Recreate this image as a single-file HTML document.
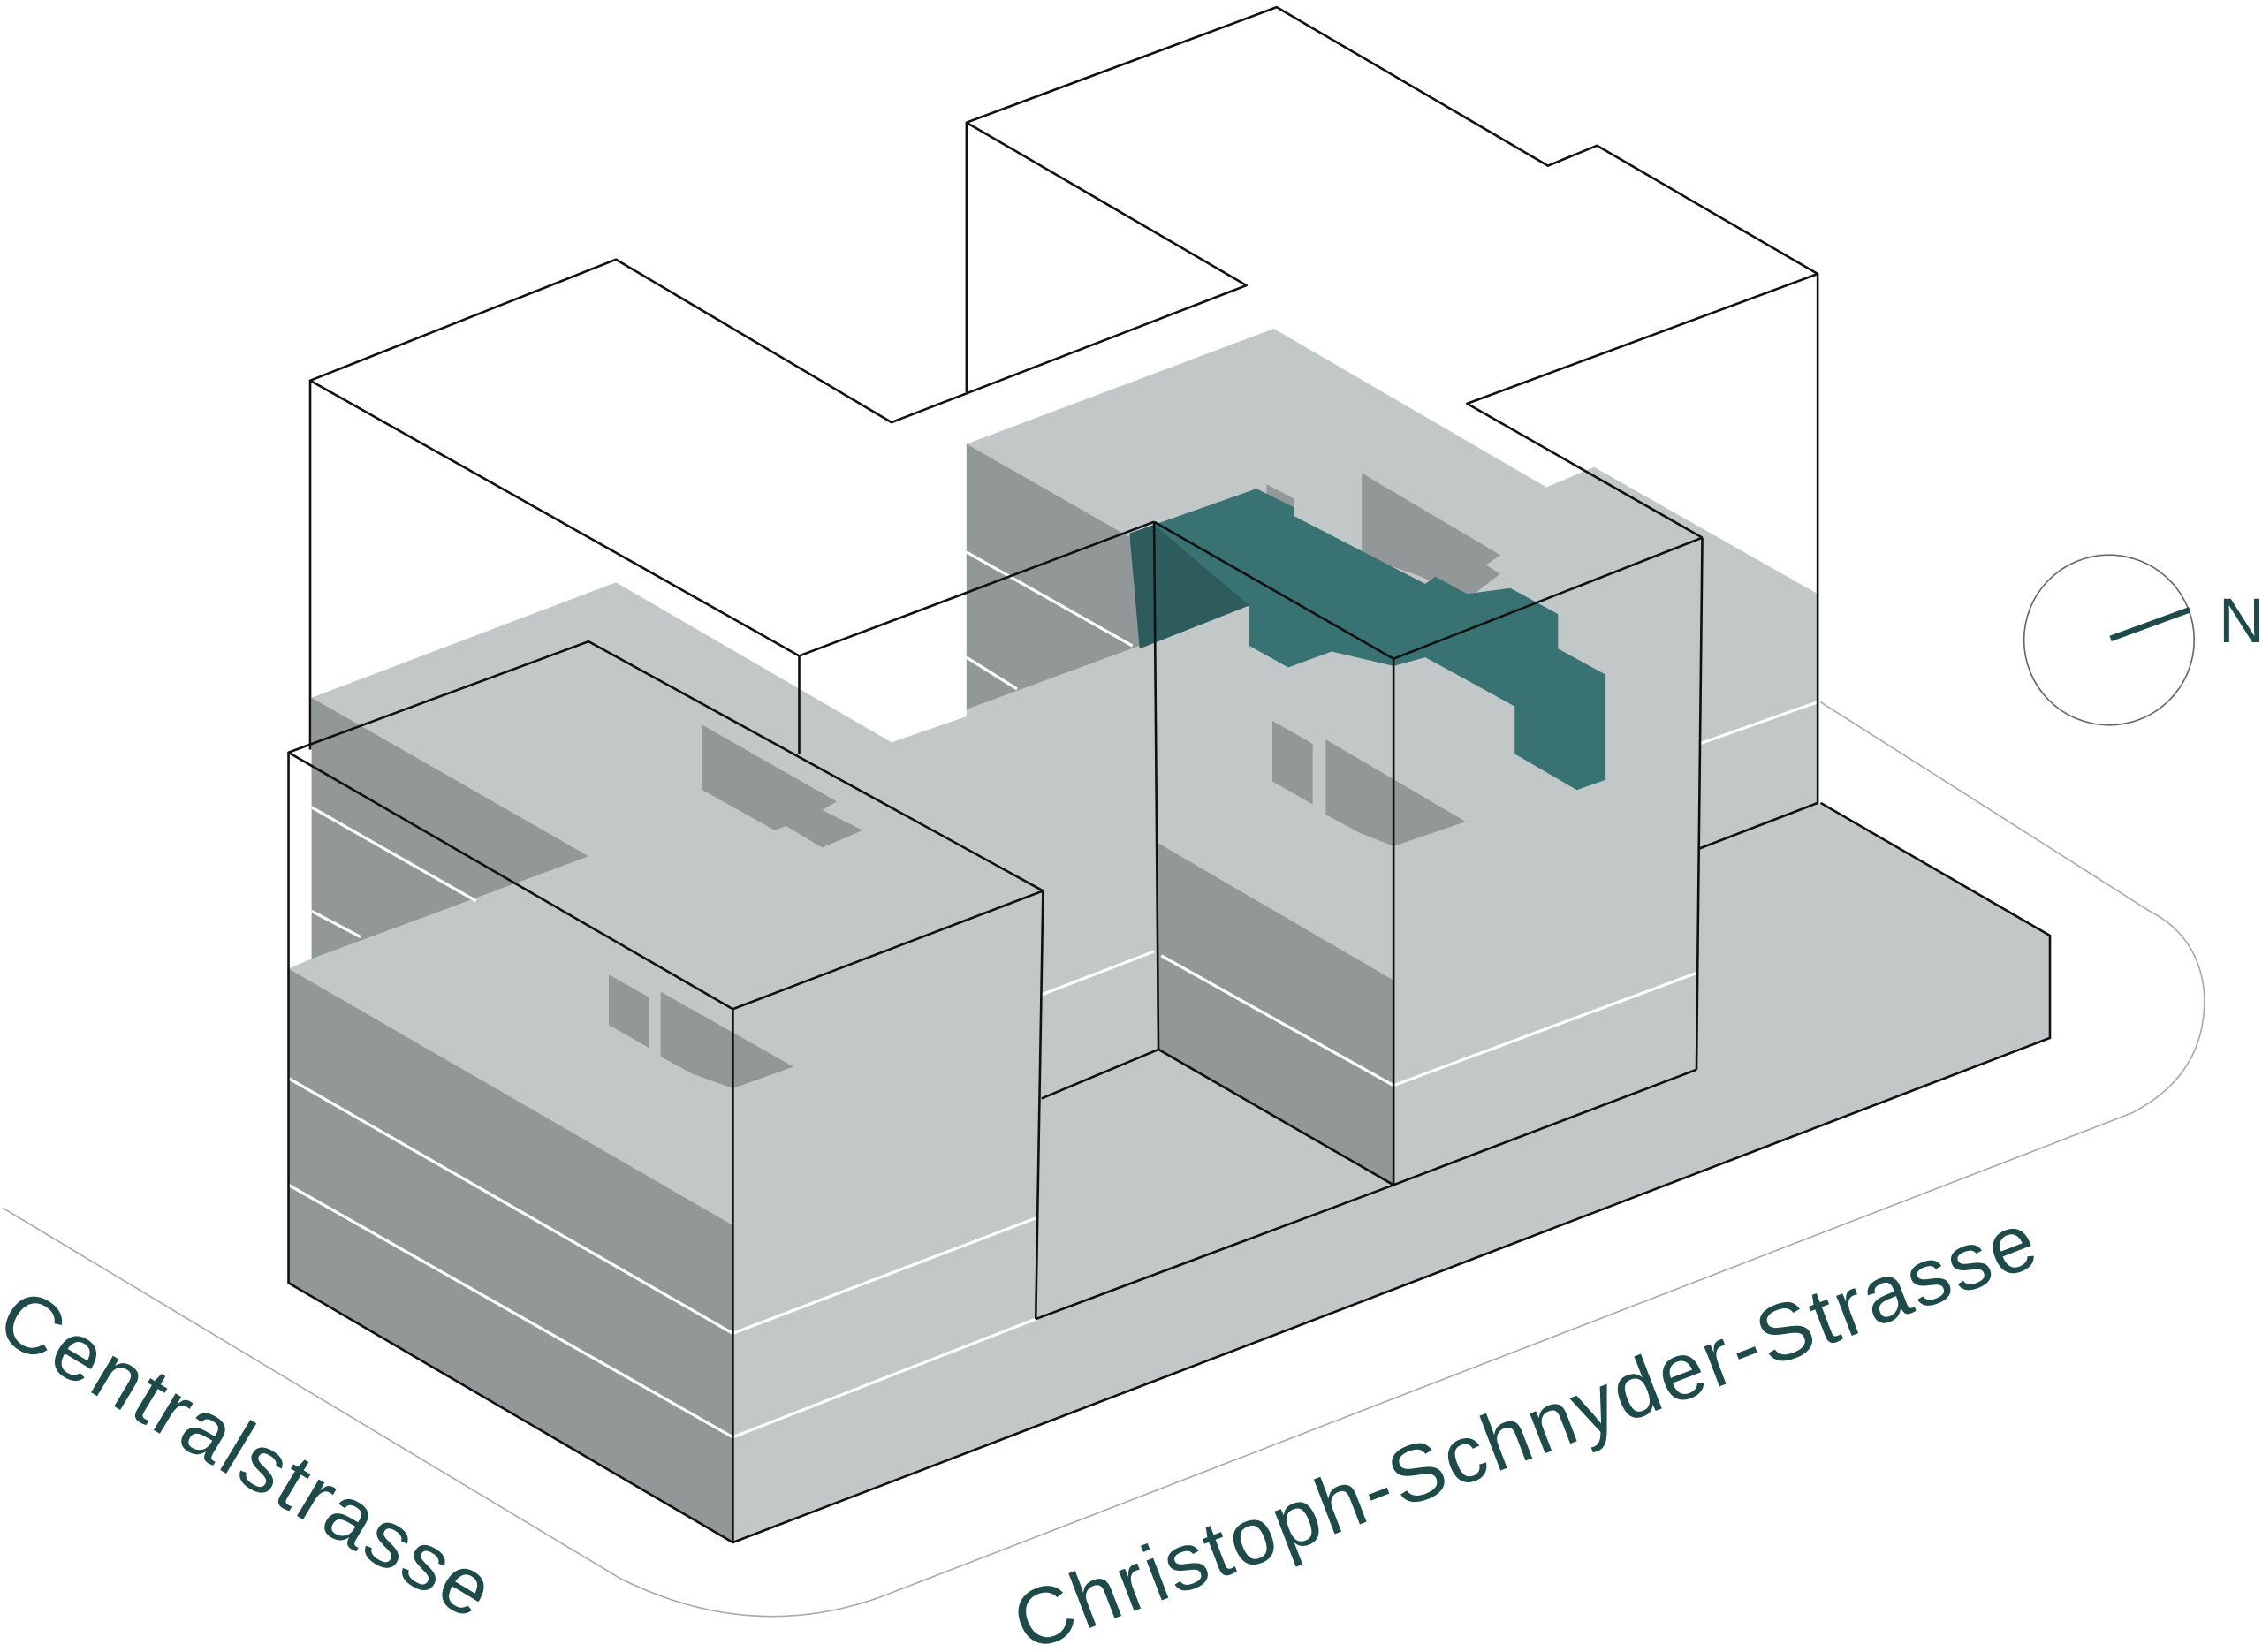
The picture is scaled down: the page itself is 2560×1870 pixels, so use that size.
<!DOCTYPE html>
<html><head><meta charset="utf-8"><style>html,body{margin:0;padding:0;background:#fff}svg{display:block}</style></head>
<body>
<svg width="2560" height="1870" viewBox="0 0 1568 1146" preserveAspectRatio="none" xmlns="http://www.w3.org/2000/svg">
<rect width="1568" height="1146" fill="#fff"/>
<!-- street outline -->
<path d="M2,838 L430,1095 Q520,1140 610,1108 L1478,772 Q1530,745 1528,690 Q1525,650 1490,632 L1262,487" fill="none" stroke="#aaa" stroke-width="1"/>
<!-- light gray mass -->
<polygon fill="#c1c8c7" points="216,484 427,404 618,515 670,497 670,308 883,228 1072,338 1105,324 1260,412 1260,557 1421,649 1421,720 508,1070 200,890 200,672 216,665"/>
<!-- dark faces -->
<g fill="#919897">
<polygon points="216,484 408,594 216,665"/>
<polygon points="200,672 508,850 508,1070 200,890"/>
<polygon points="670,308 866,420 670,492"/>
<polygon points="803,585 966,680 966,822 803,728"/>
<polygon points="487,503 580,556 570,562 598,576 570,588 545,573 537,576 487,548"/>
<polygon points="422,676 450,692 450,727 422,711"/>
<polygon points="458,688 550,740 508,755 480,745 458,733"/>
<polygon points="882,500 910,516 910,558 882,542"/>
<polygon points="919,513 1016,570 966,587 943,578 919,565"/>
<polygon points="944,328 957,336 1040,385 1030,392 1040,398 1018,415 985,400 957,390 944,385"/>
<polygon points="878,336 897,346 897,356 878,350"/>
</g>
<!-- teal -->
<polygon fill="#387272" points="783,370 871,339 897,352 897,358 988,405 995,400 1017,412 1047,408 1080,426 1080,450 1113,468 1113,541 1093,548 1050,523 1050,490 988,456 966,462 923,452 893,463 866,448 866,420 790,450"/>
<polygon fill="#2e5c5c" points="783,370 800,364 866,420 790,450"/>
<!-- white floor lines -->
<g stroke="#fff" stroke-width="2" fill="none">
<polyline points="200,748 508,925 718,845"/>
<polyline points="200,822 508,997 718,915"/>
<line x1="216" y1="560" x2="330" y2="625"/>
<line x1="216" y1="632" x2="250" y2="650"/>
<line x1="670" y1="383" x2="785" y2="448"/>
<line x1="670" y1="456" x2="705" y2="478"/>
<line x1="722" y1="690" x2="800" y2="660"/>
<polyline points="805,663 966,753 1176,675"/>
<line x1="1178" y1="516" x2="1260" y2="487"/>
</g>
<!-- black outlines -->
<g stroke="#111" stroke-width="1.6" fill="none" stroke-linejoin="round">
<polyline points="670,272 670,85 885,5 1073,115 1107,101 1260,190 1260,557 1177,589"/>
<polyline points="670,85 864,198 618,293 427,180 215,264 215,520"/>
<polyline points="215,264 554,455 554,523"/>
<line x1="554" y1="455" x2="800" y2="362"/>
<polyline points="1260,190 1017,280 1180,373"/>
<polygon points="200,522 408,445 723,618 508,700"/>
<polyline points="200,522 200,890 508,1070 508,700"/>
<line x1="723" y1="618" x2="718" y2="915"/>
<polyline points="508,1070 1421,720 1421,649 1262,557"/>
<polyline points="718,915 966,822 1176,742"/>
<polyline points="722,762 803,728 966,822"/>
<polyline points="800,362 966,457 1180,373"/>
<line x1="800" y1="362" x2="803" y2="728"/>
<line x1="966" y1="457" x2="966" y2="822"/>
<line x1="1180" y1="373" x2="1176" y2="742"/>
</g>
<!-- north -->
<circle cx="1462" cy="444" r="59" fill="none" stroke="#666" stroke-width="1"/>
<line x1="1463" y1="443" x2="1518" y2="423" stroke="#1f4a4a" stroke-width="4"/>
<text x="1538" y="434" font-family="Liberation Sans, sans-serif" font-size="44" fill="#1f4a4a" dominant-baseline="middle">N</text>
<!-- street labels -->
<text transform="translate(-5,925) rotate(31)" font-family="Liberation Sans, sans-serif" font-size="56" fill="#1f4a4a" letter-spacing="2">Centralstrasse</text>
<text transform="translate(712,1146) rotate(-21)" font-family="Liberation Sans, sans-serif" font-size="56" fill="#1f4a4a" letter-spacing="2">Christoph-Schnyder-Strasse</text>
</svg>
</body></html>
